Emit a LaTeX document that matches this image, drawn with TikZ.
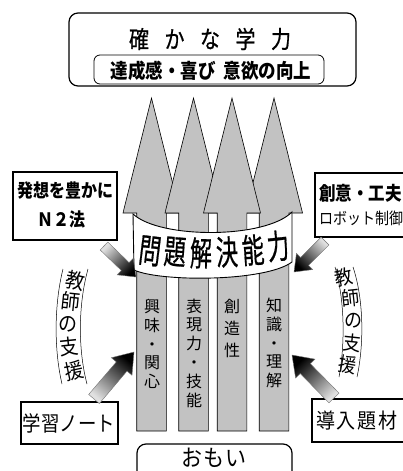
\documentclass[tikz,border=0pt]{standalone}
\usepackage{fontspec}
\newfontfamily\jp{Noto Sans CJK JP}
\newfontfamily\jpm{Noto Sans CJK JP}[FakeBold=0.8]
\usetikzlibrary{calc}
\newcommand{\ys}[2]{\scalebox{1}[#1]{#2}}
\newcommand{\fsz}[1]{\fontsize{#1}{#1}\selectfont}
\newcommand{\gradarrow}[6]{%
  \coordinate (gb) at ($(#2)!#6!(#1)$);
  \shade[garrow, shading angle=#3]
    ($(#1)!#4!90:(#2)$) -- ($(gb)!#4!90:(#2)$) -- ($(gb)!#5!90:(#2)$) -- (#2)
    -- ($(gb)!#5!-90:(#2)$) -- ($(gb)!#4!-90:(#2)$) -- ($(#1)!#4!-90:(#2)$) -- cycle;
}
\begin{document}
\begin{tikzpicture}[x=1pt,y=-1pt,font=\jp,
  barshape/.style={fill=black!24, draw=black, line width=0.6pt},
  box/.style={draw=black, line width=1.2pt, fill=white},
  rbox/.style={draw=black, line width=1.2pt, fill=white, rounded corners=9pt},
  garrow/.style={shading=axis, bottom color=black!12, top color=black, draw=black!55, line width=0.4pt},
  txt/.style={inner sep=0pt, outer sep=0pt},
  bartxt/.style={inner sep=0pt, align=center},
  band/.style={draw=black, line width=0.5pt}]
\useasboundingbox (0,0) rectangle (403,471);
\fill[white] (0,0) rectangle (403,471);
\clip (0,0) rectangle (403,471);

% top box
\draw[rbox] (69,13) rectangle (356,86);
\draw[draw=black, line width=0.8pt, rounded corners=6pt] (94,55) rectangle (324,84);
\foreach \ch [count=\i] in {確,か,な,学,力}
  \node[txt, font=\jpm\fsz{20}] (title\i) at ({139+35.5*(\i-1)},39) {\ys{1.2}{\ch}};
\node[txt, font=\jp\bfseries\fsz{17.5}] (sub) at (211,71) {\ys{1.15}{達成感・喜び\hspace{8pt}意欲の向上}};

% big arrows
\foreach \c in {274,151.5,193.5,232}
  \draw[barshape] (\c-14.8,431) -- (\c-14.8,213) -- (\c-28.5,213) -- (\c,98)
     -- (\c+28.5,213) -- (\c+14.8,213) -- (\c+14.8,431) -- cycle;

% bar texts
\node[bartxt, font=\jp\fontsize{16}{18.6}\selectfont] (b1) at (152,344) {興\\味\\・\\関\\心};
\node[bartxt, font=\jp\fontsize{16}{18.8}\selectfont] (b2) at (194,353) {表\\現\\力\\・\\技\\能};
\node[bartxt, font=\jp\fontsize{16}{22}\selectfont] (b3) at (232,328) {創\\造\\性};
\node[bartxt, font=\jp\fontsize{16}{18.6}\selectfont] (b4) at (274,343) {知\\識\\・\\理\\解};

% banner
\draw[fill=white, line width=0.9pt] (133,214) .. controls (160,239) and (265,239) .. (292,212)
  -- (292,262) .. controls (265,282) and (160,282) .. (134,270) -- cycle;
\foreach \ch/\x/\y/\r [count=\i] in {問/150/251/-7,題/175/252/-4,解/201/253/-1,決/227/252/2,能/253/250/4,力/278/246/6}
  \node[txt, rotate=\r, font=\jpm\fsz{24.5}] (ban\i) at (\x,\y) {\scalebox{0.9}[1.38]{\ch}};

% side boxes
\draw[box] (13,172) rectangle (117,240);
\node[txt, font=\jp\bfseries\fsz{16}] (hass) at (65,191) {\ys{1.15}{発想を豊かに}};
\node[txt, font=\jp\bfseries\fsz{16}] (n2) at (61,220) {\ys{1.15}{Ｎ２法}};

\draw[box] (315,173) rectangle (410,237);
\node[txt, anchor=west, font=\jp\bfseries\fsz{16.5}] (soui) at (319,193) {\ys{1.15}{創意・工夫}};
\node[txt, anchor=west, font=\jp\fsz{14}] (robo) at (319,218) {\ys{1.15}{ロボット制御}};

\draw[box] (21,402) rectangle (118,444);
\node[txt, font=\jp\fsz{18.4}] (note) at (69,423) {\ys{1.15}{学習ノート}};

\draw[box] (312,399) rectangle (410,442);
\node[txt, font=\jp\fsz{19}] (dounyu) at (357,421) {\ys{1.1}{導\hspace{2pt}入\hspace{2pt}題\hspace{2pt}材}};

% bottom box
\draw[rbox] (137,444) rectangle (292,480);
\node[txt, font=\jp\fsz{21}] (omoi) at (214,458) {\ys{1.1}{お\hspace{1pt}も\hspace{1pt}い}};

% teacher support bands
\draw[band] (63,269) .. controls (54,305) and (54,350) .. (62,384);
\draw[band] (88,269) .. controls (78,305) and (78,350) .. (87,384);
\foreach \ch/\x/\y/\r [count=\i] in {教/75/281/-12,師/71/302/-6,の/68/324/0,支/69/347/6,援/74/371/12}
  \node[txt, rotate=\r, font=\jp\fsz{19}] (ls\i) at (\x,\y) {\ys{1.1}{\ch}};
\draw[band] (335,267) .. controls (345,300) and (345,345) .. (339,377);
\draw[band] (353,267) .. controls (364,300) and (364,345) .. (357,377);
\foreach \ch/\x/\y/\r [count=\i] in {教/344/277/12,師/351/298/6,の/353/321/0,支/352/343/-6,援/348/365/-10}
  \node[txt, rotate=\r, font=\jp\fsz{18}] (rs\i) at (\x,\y) {\ys{1.1}{\ch}};

% gradient arrows
\coordinate (t1) at (104,246); \coordinate (h1) at (136,277);
\coordinate (t2) at (325,241); \coordinate (h2) at (294,272);
\coordinate (t3) at (94,399);  \coordinate (h3) at (134,352);
\coordinate (t4) at (334,398); \coordinate (h4) at (292,355);
\gradarrow{t1}{h1}{-135}{5.5pt}{11.5pt}{15pt}
\gradarrow{t2}{h2}{135}{5.5pt}{11.5pt}{15pt}
\gradarrow{t3}{h3}{-40}{7pt}{13.5pt}{19pt}
\gradarrow{t4}{h4}{44}{7pt}{13.5pt}{19pt}
\end{tikzpicture}
\end{document}
